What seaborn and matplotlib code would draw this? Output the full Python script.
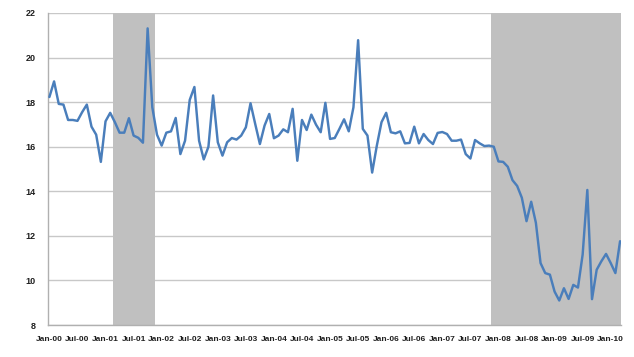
import pandas as pd
import seaborn as sns
import matplotlib
matplotlib.use('Agg')
import matplotlib.pyplot as plt

# monthly series, Jan-2000 .. Mar-2010
values = [18.23, 18.93, 17.92, 17.89, 17.2, 17.2, 17.16, 17.55, 17.89, 16.9, 16.54, 15.32,
          17.14, 17.52, 17.1, 16.63, 16.63, 17.28, 16.5, 16.4, 16.18, 21.31, 17.77, 16.54,
          16.05, 16.63, 16.69, 17.29, 15.67, 16.27, 18.1, 18.68, 16.27, 15.43, 16.0, 18.3,
          16.2, 15.6, 16.2, 16.39, 16.32, 16.5, 16.87, 17.95, 17.02, 16.12, 16.95, 17.47,
          16.38, 16.5, 16.78, 16.65, 17.7, 15.37, 17.2, 16.75, 17.44, 16.99, 16.65, 17.97,
          16.35, 16.39, 16.8, 17.23, 16.69, 17.77, 20.78, 16.8, 16.5, 14.84, 16.05, 17.1,
          17.52, 16.65, 16.6, 16.69, 16.15, 16.17, 16.9, 16.15, 16.57, 16.3, 16.12, 16.62,
          16.66, 16.57, 16.27, 16.27, 16.32, 15.67, 15.47, 16.3, 16.15, 16.03, 16.05, 16.0,
          15.34, 15.32, 15.1, 14.5, 14.24, 13.71, 12.66, 13.53, 12.59, 10.78, 10.33, 10.26,
          9.5, 9.1, 9.65, 9.17, 9.8, 9.68, 11.16, 14.06, 9.16, 10.48, 10.86, 11.19,
          10.78, 10.33, 11.76]

months = pd.date_range('2000-01-01', periods=len(values), freq='MS')
# shaded periods (first and last month)
recessions = [('2001-03-01', '2001-11-01'), ('2007-12-01', '2010-03-01')]
y_ticks = [8, 10, 12, 14, 16, 18, 20, 22]

df = pd.DataFrame({'idx': range(len(values)), 'value': values})

sns.set_style('white')
plt.rcParams['font.family'] = ['Liberation Sans', 'DejaVu Sans']

fig, ax = plt.subplots(figsize=(6.34, 3.57), dpi=100)
fig.subplots_adjust(left=0.0757, right=0.9795, top=0.9636, bottom=0.0896)

for start, end in recessions:
    i0 = months.get_loc(pd.Timestamp(start))
    i1 = months.get_loc(pd.Timestamp(end))
    ax.axvspan(i0 - 0.5, i1 + 0.5, color='#c0c0c0', lw=0, zorder=1)

sns.lineplot(data=df, x='idx', y='value', color='#4a7ebb', linewidth=1.75, ax=ax, zorder=3)

ax.set_xlim(-0.3, len(values) - 1 + 0.2)
ax.set_ylim(8, 22)
ax.set_yticks(y_ticks)
ax.set_yticklabels([str(t) for t in y_ticks], fontsize=6.5, fontweight='bold', color='#202020')
tick_idx = list(range(0, len(values), 6))
ax.set_xticks(tick_idx)
ax.set_xticklabels([months[i].strftime('%b-%y') for i in tick_idx],
                   fontsize=6.0, fontweight='bold', color='#202020')
ax.tick_params(axis='both', length=0)
ax.tick_params(axis='x', pad=8)
ax.tick_params(axis='y', pad=9)

ax.grid(axis='y', color='#c8c8c8', linewidth=1.0, zorder=0)
ax.set_axisbelow(True)
ax.set_xlabel('')
ax.set_ylabel('')
for side in ['top', 'right']:
    ax.spines[side].set_visible(False)
for side in ['left', 'bottom']:
    ax.spines[side].set_color('#b0b0b0')
    ax.spines[side].set_linewidth(1.0)

fig.savefig('out.png', dpi=100)
